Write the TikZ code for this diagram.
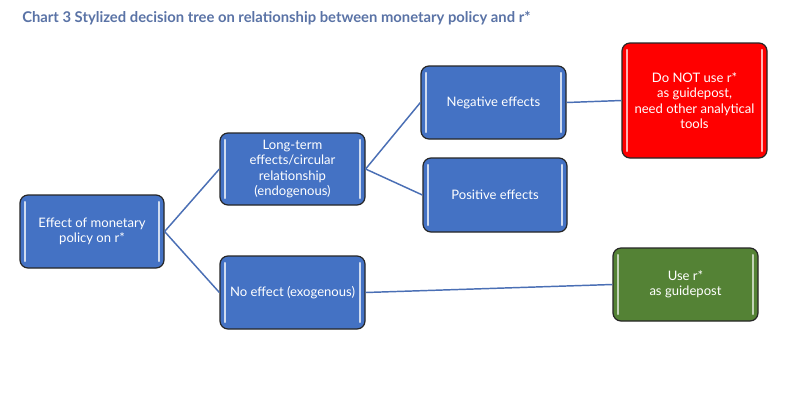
\documentclass[tikz,border=0pt]{standalone}
\usepackage{fontspec}
\setmainfont{Lato}
\definecolor{titleblue}{HTML}{5A73A6}
\definecolor{boxblue}{HTML}{4472C4}
\definecolor{linkblue}{HTML}{4A6FB5}
\definecolor{boxred}{HTML}{FF0000}
\definecolor{boxgreen}{HTML}{548235}
\tikzset{
  treebox/.style={draw=black!85, line width=0.9pt, rounded corners=6pt, fill=boxblue,
    text=white, align=center, inner sep=0pt, minimum width=#1*0.75pt,
    font=\fontsize{9.8}{11.6}\selectfont,
    path picture={
      \draw[white!75!boxblue, line width=1.6pt, line cap=round]
        ([shift={(5,7)}]path picture bounding box.north west) --
        ([shift={(5,-7)}]path picture bounding box.south west);
      \draw[white!75!boxblue, line width=1.6pt, line cap=round]
        ([shift={(-5,7)}]path picture bounding box.north east) --
        ([shift={(-5,-7)}]path picture bounding box.south east);
    }},
  link/.style={draw=linkblue, line width=1.1pt}
}
\begin{document}
\begin{tikzpicture}[x=0.75pt,y=-0.75pt]
\useasboundingbox (0,0) rectangle (800,401);
\fill[white] (0,0) rectangle (800,401);
\node[anchor=base west, text=titleblue, font=\bfseries\fontsize{11.1}{13}\selectfont, inner sep=0pt] (title) at (22,22.5)
  {Chart 3 Stylized decision tree on relationship between monetary policy and r*};
\node[treebox=144, minimum height=73*0.75pt] (a) at (92,231.5) {Effect of monetary\\policy on r*};
\node[treebox=145, minimum height=72*0.75pt] (b) at (292.5,169) {Long-term\\effects/circular\\relationship\\(endogenous)};
\node[treebox=145, minimum height=73*0.75pt] (c) at (493.5,102.5) {Negative effects};
\node[treebox=144, minimum height=74*0.75pt] (d) at (495,195) {Positive effects};
\node[treebox=145, minimum height=115*0.75pt, fill=boxred, path picture={
      \draw[white!70!boxred, line width=1.6pt, line cap=round]
        ([shift={(5,7)}]path picture bounding box.north west) --
        ([shift={(5,-7)}]path picture bounding box.south west);
      \draw[white!70!boxred, line width=1.6pt, line cap=round]
        ([shift={(-5,7)}]path picture bounding box.north east) --
        ([shift={(-5,-7)}]path picture bounding box.south east);
    }] (e) at (694.5,100.5) {Do NOT use r*\\as guidepost,\\need other analytical\\tools};
\node[treebox=145, minimum height=73*0.75pt, fill=boxgreen, path picture={
      \draw[white!65!boxgreen, line width=1.6pt, line cap=round]
        ([shift={(5,7)}]path picture bounding box.north west) --
        ([shift={(5,-7)}]path picture bounding box.south west);
      \draw[white!65!boxgreen, line width=1.6pt, line cap=round]
        ([shift={(-5,7)}]path picture bounding box.north east) --
        ([shift={(-5,-7)}]path picture bounding box.south east);
    }] (f) at (685.5,284.5) {Use r*\\as guidepost};
\node[treebox=145, minimum height=73*0.75pt] (g) at (292.5,292.5) {No effect (exogenous)};
\draw[link] (a.east) -- (b.west);
\draw[link] (a.east) -- (g.west);
\draw[link] (b.east) -- (c.west);
\draw[link] (b.east) -- (d.west);
\draw[link] (c.east) -- (e.west);
\draw[link] (g.east) -- (f.west);
\end{tikzpicture}
\end{document}
